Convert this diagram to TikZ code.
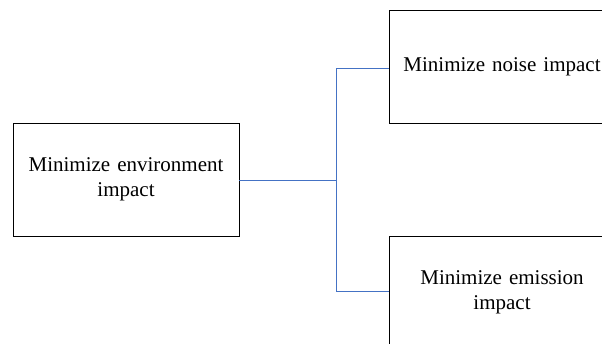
\documentclass[tikz,border=0pt]{standalone}
\usepackage{fontspec}
\setmainfont{Liberation Serif}
\definecolor{linkblue}{RGB}{68,114,196}
\begin{document}
\begin{tikzpicture}[x=1pt,y=-1pt,
  box/.style={draw=black, line width=0.9pt, minimum width=226pt, minimum height=113pt,
    inner sep=0pt, align=center, font=\fontsize{21}{25}\selectfont, text width=215pt},
  link/.style={draw=linkblue, line width=0.9pt}]
\useasboundingbox (0,0) rectangle (602,344);
\clip (0,0) rectangle (602,344);
\node[box] (env) at (126,179.5) {Minimize environment\\impact};
\node[box] (noise) at (502,66.5) {Minimize noise impact};
\node[box] (emis) at (502,292.5) {Minimize emission\\impact};
\coordinate (j) at (336,180);
\draw[link] (env.east |- j) -- (j);
\draw[link] (j) |- (noise.west |- 0,68);
\draw[link] (j) |- (emis.west |- 0,291);
\end{tikzpicture}
\end{document}
